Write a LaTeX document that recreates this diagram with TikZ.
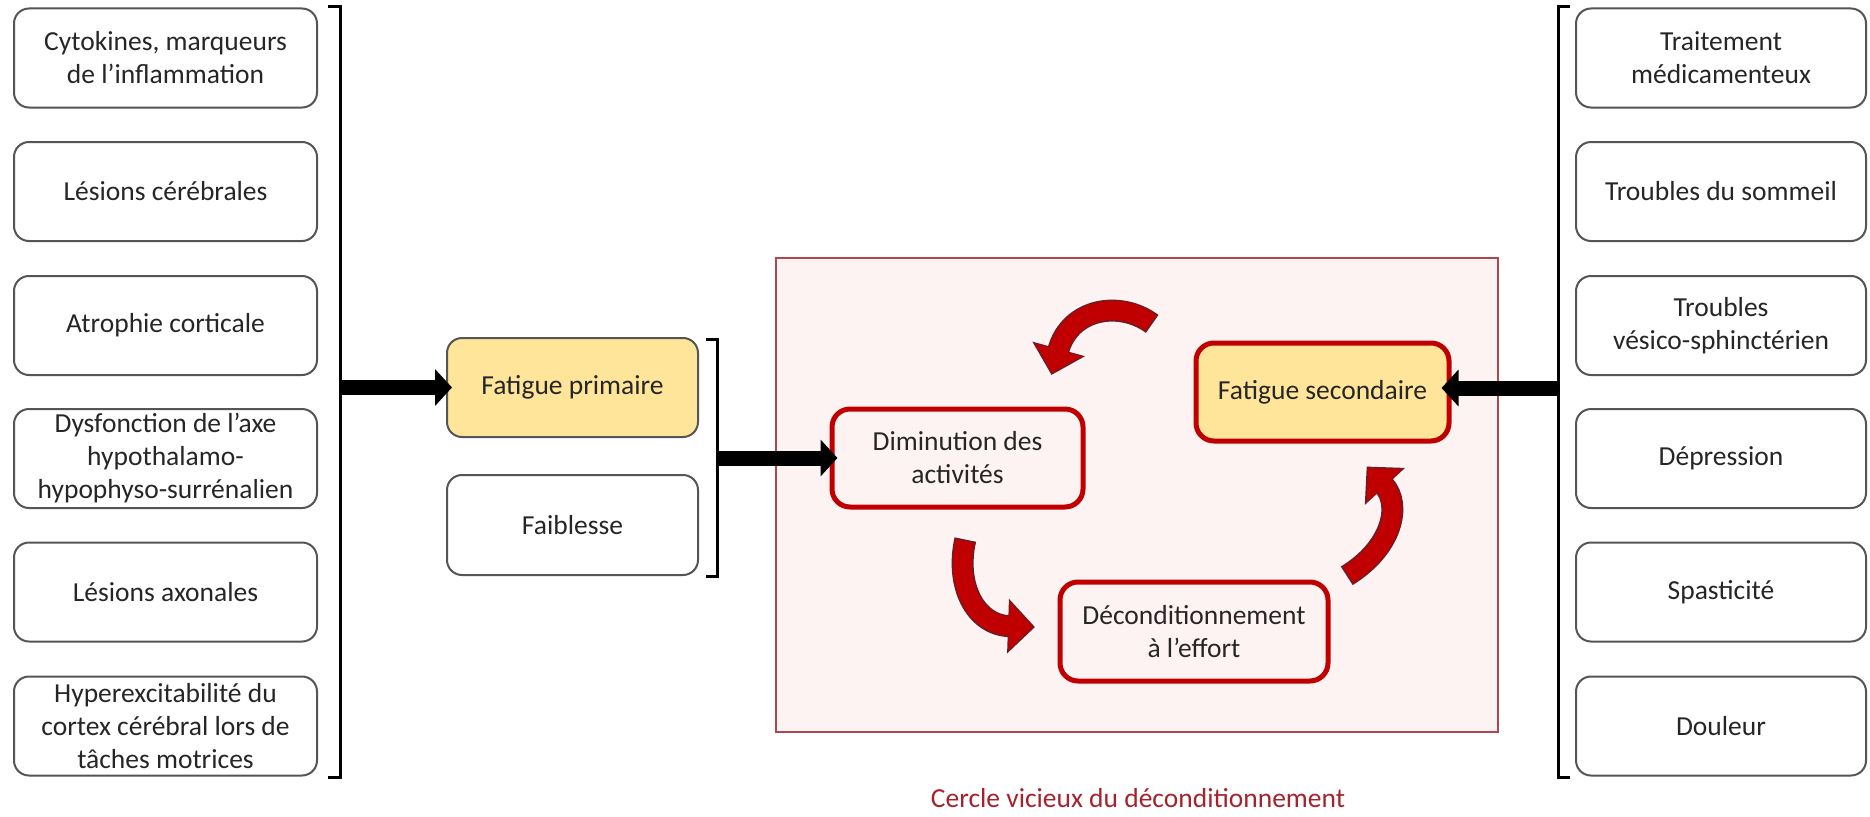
\documentclass[tikz,border=0pt]{standalone}
\usepackage{fontspec}
\setmainfont{Carlito}
\usetikzlibrary{arrows.meta,calc}
\definecolor{boxgray}{RGB}{85,85,85}
\definecolor{txt}{RGB}{38,38,38}
\definecolor{fatigue}{RGB}{255,229,153}
\definecolor{cyclered}{RGB}{192,0,0}
\definecolor{framered}{RGB}{175,70,80}
\definecolor{panelpink}{RGB}{253,243,243}
\definecolor{captionred}{RGB}{165,35,45}
\definecolor{arrowedge}{RGB}{105,30,40}

\begin{document}
\begin{tikzpicture}[x=1pt,y=-1pt,
  every node/.style={font=\fontsize{27.5}{33}\selectfont, text=txt, align=center, inner sep=0pt},
  causebox/.style={draw=boxgray, line width=2pt, rounded corners=15pt, fill=white, minimum height=99pt},
  leftbox/.style={causebox, minimum width=303pt},
  rightbox/.style={causebox, minimum width=290pt},
  fatiguebox/.style={draw=boxgray, line width=2pt, rounded corners=15pt, minimum width=251pt, minimum height=99pt},
  cyclebox/.style={draw=cyclered, line width=5pt, rounded corners=18pt, minimum height=98pt},
  bracketline/.style={draw=black, line width=3pt, line join=miter},
  blockarrow/.style={draw=black, line width=15pt, -{Triangle[length=17pt,width=36pt]}},
  cyclearrow/.style={draw=cyclered, line width=19pt, -{Triangle[length=24pt,width=47pt]},
     preaction={draw=arrowedge, line width=22pt, -{Triangle[length=27pt,width=53pt]},
                shorten >=-2pt, shorten <=-1.5pt}},
]
\useasboundingbox (0,0) rectangle (1870,816);
\fill[white] (0,0) rectangle (1870,816);

% primary causes (left column)
\node[leftbox] (l1) at (165.5,58)    {Cytokines, marqueurs\\de l’inflammation};
\node[leftbox] (l2) at (165.5,191.5) {Lésions cérébrales};
\node[leftbox] (l3) at (165.5,325.5) {Atrophie corticale};
\node[leftbox] (l4) at (165.5,458.5) {Dysfonction de l’axe\\hypothalamo-\\hypophyso-surrénalien};
\node[leftbox] (l5) at (165.5,592)   {Lésions axonales};
\node[leftbox] (l6) at (165.5,726)   {Hyperexcitabilité du\\cortex cérébral lors de\\tâches motrices};

% secondary causes (right column)
\node[rightbox] (r1) at (1721,58)    {Traitement\\médicamenteux};
\node[rightbox] (r2) at (1721,191.5) {Troubles du sommeil};
\node[rightbox] (r3) at (1721,325.5) {Troubles\\vésico-sphinctérien};
\node[rightbox] (r4) at (1721,458.5) {Dépression};
\node[rightbox] (r5) at (1721,592)   {Spasticité};
\node[rightbox] (r6) at (1721,726)   {Douleur};

% brackets grouping the columns
\draw[bracketline] (328,7) -- (340,7) -- (340,777) -- (328,777);
\coordinate (lbrack) at (340,388);
\draw[bracketline] (1570,7) -- (1558,7) -- (1558,777) -- (1570,777);
\coordinate (rbrack) at (1558,388);

% primary fatigue and weakness
\node[fatiguebox, fill=fatigue] (fp) at (572.5,387.5) {Fatigue primaire};
\node[fatiguebox, fill=white, minimum height=100pt] (fb) at (572.5,525) {Faiblesse};
\draw[bracketline] (706,339) -- (717,339) -- (717,576) -- (706,576);
\coordinate (mbrack) at (717,458);

% deconditioning cycle panel
\node[draw=framered, fill=panelpink, line width=1.5pt, minimum width=722pt, minimum height=474pt] (panel) at (1137,495) {};
\node[cyclebox, minimum width=251pt] (dim) at (957.5,458) {Diminution des\\activités};
\node[cyclebox, fill=fatigue, minimum width=253pt] (fs) at (1322.5,392) {Fatigue secondaire};
\node[cyclebox, minimum width=268pt, minimum height=99pt] (dec) at (1194,631.5) {Déconditionnement\\à l’effort};

% straight block arrows
\draw[blockarrow] (lbrack |- fp.west) -- ([xshift=6pt]fp.west);
\draw[blockarrow] (mbrack |- dim.west) -- ([xshift=8pt]dim.west);
\draw[blockarrow] (rbrack) -- ([xshift=-10pt]fs.east |- rbrack);

% curved arrows of the cycle
\draw[cyclearrow] (1151,323) .. controls (1120,300) and (1070,308) .. (1052,373);
\draw[cyclearrow] (965,541) .. controls (955,585) and (975,625) .. (1033,627);
\draw[cyclearrow] (1348,575) .. controls (1392,548) and (1402,505) .. (1368,468);

\node[text=captionred] (caption) at (1138,798) {Cercle vicieux du déconditionnement};
\end{tikzpicture}
\end{document}
